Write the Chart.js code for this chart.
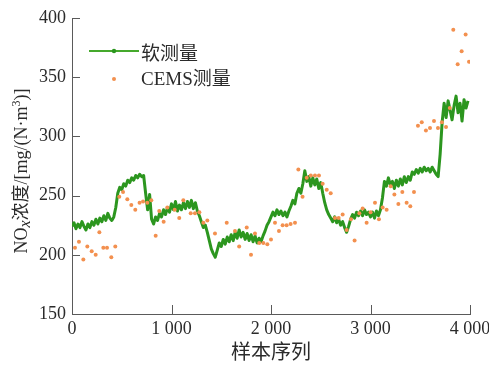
<!DOCTYPE html>
<html>
<head>
<meta charset="utf-8">
<style>
  html, body { margin: 0; padding: 0; background: #ffffff; }
  canvas { display: block; }
</style>
<script src="https://cdn.jsdelivr.net/npm/chart.js@4.4.1/dist/chart.umd.min.js"></script>
</head>
<body>
<canvas id="chart" width="489" height="366"></canvas>
<script>
// Soft-sensor NOx estimate, one value every 20 samples starting at sample 0
const softStep = 20;
const softValues = [
  224, 227, 222, 226, 223, 228, 224, 221, 226, 223,
  228, 225, 230, 226, 231, 228, 233, 229, 235, 231,
  229, 232, 240, 252, 257, 255, 260, 258, 263, 261,
  265, 263, 267, 265, 268, 266, 267, 252, 238, 251,
  230, 226, 232, 229, 235, 232, 238, 234, 240, 236,
  243, 238, 245, 237, 242, 238, 244, 239, 245, 240,
  246, 239, 244, 237, 233, 228, 223, 225, 219, 212,
  205, 201, 198, 204, 210, 207, 213, 209, 215, 211,
  217, 212, 219, 214, 221, 215, 219, 213, 218, 212,
  217, 211, 216, 210, 214, 211, 216, 220, 225, 228,
  232, 236, 233, 238, 234, 237, 233, 236, 232, 237,
  241, 246, 243, 252, 256, 252, 260, 271, 262, 266,
  258, 265, 259, 264, 256, 261, 252, 244, 238, 234,
  231, 228, 232, 227, 230, 225, 228, 223, 219, 224,
  230, 234, 231, 236, 233, 237, 233, 238, 234, 236,
  232, 236, 231, 237, 233, 238, 248, 262, 258, 265,
  259, 262, 256, 263, 258, 264, 259, 266, 261, 266,
  263, 270, 268, 272, 269, 273, 270, 274, 271, 273,
  270, 274, 271, 268, 266, 285, 312, 328, 316, 330,
  322, 314, 326, 334, 320, 328, 313, 331, 324, 330
];

// CEMS analyser readings
const cemsSamples = [
  30, 70, 114, 154, 198, 238, 275, 315, 352, 395,
  435, 475, 513, 556, 596, 636, 679, 714, 757, 797,
  841, 877, 921, 958, 1032, 1078, 1119, 1193, 1236, 1280,
  1320, 1360, 1437, 1555, 1638, 1680, 1756, 1799, 1839, 1882,
  1923, 1963, 2000, 2040, 2080, 2117, 2157, 2197, 2241, 2275,
  2317, 2359, 2400, 2442, 2482, 2519, 2560, 2600, 2643, 2680,
  2720, 2760, 2804, 2840, 2888, 2921, 2961, 3001, 3045, 3085,
  3122, 3162, 3203, 3240, 3280, 3320, 3363, 3400, 3437, 3477,
  3515, 3557, 3598, 3638, 3678, 3718, 3759, 3797, 3832, 3876,
  3916, 3956, 3990
];
const cemsValues = [
  206, 211, 196, 207, 203, 200, 219, 206, 206, 198,
  207, 249, 253, 247, 242, 238, 244, 245, 244, 246,
  216, 237, 228, 240, 238, 231, 246, 235, 235, 236,
  227, 229, 218, 227, 220, 207, 223, 200, 218, 210,
  210, 209, 213, 227, 220, 225, 225, 226, 227, 272,
  249, 265, 267, 267, 267, 260, 255, 252, 231, 231,
  234, 221, 230, 212, 235, 239, 227, 236, 244, 230,
  240, 238, 258, 251, 243, 253, 244, 241, 253, 309,
  312, 305, 307, 313, 307, 312, 308, 324, 390, 361,
  372, 386, 363
];

const xTickLabels = ['0', '1 000', '2 000', '3 000', '4 000'];
const yTickLabels = ['150', '200', '250', '300', '350', '400'];
const seriesNames = ['软测量', 'CEMS测量'];

const SERIF = "'Liberation Serif', 'Times New Roman', 'Noto Sans CJK SC', serif";
const AXIS_COLOR = '#5a5a5a';
const TEXT_COLOR = '#2b2b2b';
const LINE_COLOR = '#2c961f';
const DOT_COLOR = '#f3904f';

const softData = softValues.map((v, i) => ({ x: i * softStep, y: v }));
const cemsData = cemsSamples.map((s, i) => ({ x: s, y: cemsValues[i] }));

// Tick marks pointing into the plot area
const inwardTicks = {
  id: 'inwardTicks',
  afterDatasetsDraw(chart) {
    const { ctx, chartArea, scales: { x, y } } = chart;
    ctx.save();
    ctx.strokeStyle = AXIS_COLOR;
    ctx.lineWidth = 1;
    x.ticks.forEach(t => {
      const px = Math.round(x.getPixelForValue(t.value)) + 0.5;
      ctx.beginPath();
      ctx.moveTo(px, chartArea.bottom);
      ctx.lineTo(px, chartArea.bottom - 9);
      ctx.stroke();
    });
    y.ticks.forEach(t => {
      const py = Math.round(y.getPixelForValue(t.value)) + 0.5;
      ctx.beginPath();
      ctx.moveTo(chartArea.left, py);
      ctx.lineTo(chartArea.left + 8, py);
      ctx.stroke();
    });
    ctx.restore();
  }
};

// Legend inside the upper-left corner of the plot
const innerLegend = {
  id: 'innerLegend',
  afterDatasetsDraw(chart) {
    const { ctx } = chart;
    const ds = chart.data.datasets;
    ctx.save();
    ctx.font = `19px ${SERIF}`;
    ctx.fillStyle = TEXT_COLOR;
    ctx.textBaseline = 'middle';
    ctx.textAlign = 'left';
    // line series sample
    ctx.strokeStyle = '#45a92c';
    ctx.lineWidth = 2;
    ctx.beginPath();
    ctx.moveTo(89, 51);
    ctx.lineTo(139, 51);
    ctx.stroke();
    ctx.fillStyle = ds[0].borderColor;
    ctx.beginPath();
    ctx.arc(114, 51, 2.2, 0, Math.PI * 2);
    ctx.fill();
    ctx.fillStyle = TEXT_COLOR;
    ctx.fillText(ds[0].label, 141, 55);
    // scatter series sample
    ctx.fillStyle = ds[1].backgroundColor;
    ctx.beginPath();
    ctx.arc(114, 79, 2, 0, Math.PI * 2);
    ctx.fill();
    ctx.fillStyle = TEXT_COLOR;
    ctx.fillText(ds[1].label, 141, 80);
    ctx.restore();
  }
};

// Vertical axis title with italic subscript x and superscript 3
const yTitle = {
  id: 'yTitle',
  afterDraw(chart) {
    const { ctx } = chart;
    const parts = [
      { t: 'NO', f: `18px ${SERIF}`, dy: 0 },
      { t: 'x', f: `italic 16px ${SERIF}`, dy: 3 },
      { t: '浓度', f: `18px ${SERIF}`, dy: 0 },
      { t: '/[mg/(N·m', f: `18px ${SERIF}`, dy: 0 },
      { t: '3', f: `12px ${SERIF}`, dy: -7 },
      { t: ')]', f: `18px ${SERIF}`, dy: 0 }
    ];
    ctx.save();
    let total = 0;
    parts.forEach(p => { ctx.font = p.f; p.w = ctx.measureText(p.t).width; total += p.w; });
    ctx.translate(27, 171);
    ctx.rotate(-Math.PI / 2);
    ctx.fillStyle = TEXT_COLOR;
    ctx.textBaseline = 'alphabetic';
    ctx.textAlign = 'left';
    let cx = -total / 2;
    parts.forEach(p => {
      ctx.font = p.f;
      ctx.fillText(p.t, cx, p.dy);
      cx += p.w;
    });
    ctx.restore();
  }
};

new Chart(document.getElementById('chart'), {
  type: 'scatter',
  data: {
    datasets: [
      {
        type: 'line',
        label: seriesNames[0],
        data: softData,
        borderColor: LINE_COLOR,
        backgroundColor: LINE_COLOR,
        borderWidth: 3,
        borderJoinStyle: 'round',
        pointRadius: 0,
        tension: 0,
        fill: false,
        order: 2
      },
      {
        type: 'scatter',
        label: seriesNames[1],
        data: cemsData,
        backgroundColor: DOT_COLOR,
        borderColor: DOT_COLOR,
        borderWidth: 0,
        pointRadius: 2,
        order: 1
      }
    ]
  },
  options: {
    responsive: false,
    animation: false,
    devicePixelRatio: 1,
    layout: { padding: { left: 0, right: 0, top: 18, bottom: 0 } },
    plugins: {
      legend: { display: false },
      tooltip: { enabled: false }
    },
    scales: {
      x: {
        type: 'linear',
        min: 0,
        max: 4000,
        afterFit(scale) {
          scale.height = 52;
          scale.paddingRight = 19;
        },
        ticks: {
          stepSize: 1000,
          padding: 4,
          maxRotation: 0,
          color: TEXT_COLOR,
          font: { family: SERIF, size: 18 },
          callback: v => xTickLabels[Math.round(v / 1000)]
        },
        grid: { display: false, drawTicks: false },
        border: { display: true, color: AXIS_COLOR, width: 1 },
        title: {
          display: true,
          text: '样本序列',
          color: TEXT_COLOR,
          font: { family: SERIF, size: 20 },
          padding: { top: 0, bottom: 0 }
        }
      },
      y: {
        type: 'linear',
        min: 150,
        max: 400,
        afterFit(scale) { scale.width = 72; },
        ticks: {
          stepSize: 50,
          padding: 6,
          color: TEXT_COLOR,
          font: { family: SERIF, size: 18 },
          callback: v => yTickLabels[Math.round((v - 150) / 50)]
        },
        grid: { display: false, drawTicks: false },
        border: { display: true, color: AXIS_COLOR, width: 1 }
      }
    }
  },
  plugins: [inwardTicks, innerLegend, yTitle]
});
</script>
</body>
</html>
